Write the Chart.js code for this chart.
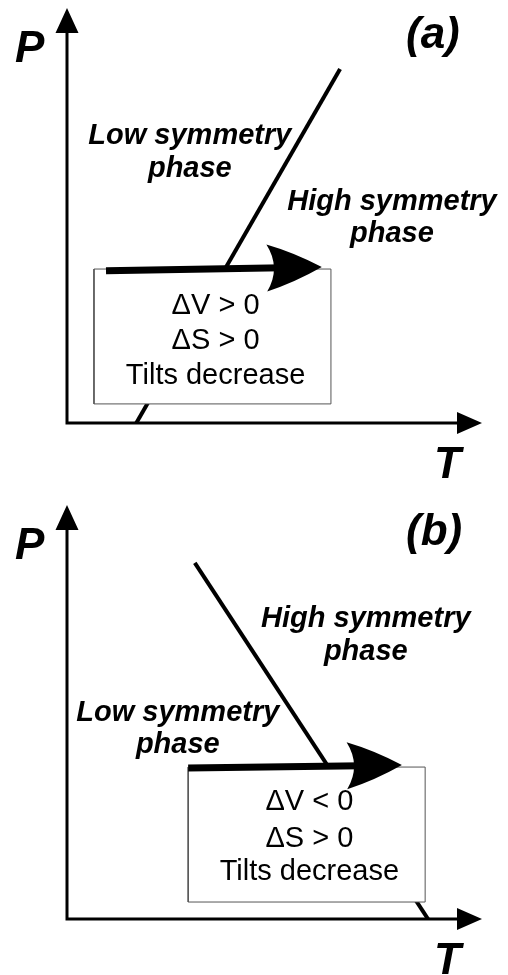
<!DOCTYPE html>
<html>
<head>
<meta charset="utf-8">
<script src="https://cdn.jsdelivr.net/npm/chart.js@4.4.1/dist/chart.umd.min.js"></script>
<style>
  html, body { margin: 0; padding: 0; background: #fff; }
  #wrap { position: relative; width: 508px; height: 975px; }
  .panel { position: absolute; left: 0; width: 508px; }
  canvas { display: block; }
</style>
</head>
<body>
<div id="wrap">
  <div class="panel" style="top:0; height:490px;"><canvas id="chart-a"></canvas></div>
  <div class="panel" style="top:490px; height:485px;"><canvas id="chart-b"></canvas></div>
</div>
<script>
/* ============================================
   P–T schematic: two phase diagrams
   ============================================ */

// shared axis range (arbitrary T and P units)
const axisMin = 0;
const axisMax = 10;

// --- Panel (a): boundary with positive slope ---
const boundaryA_T = [1.67, 6.58];
const boundaryA_P = [0, 8.53];
const boxA_T = [0.65, 6.36];
const boxA_P = [0.46, 3.71];
const shaftA_T = [0.94, 5.2];
const shaftA_P = [3.67, 3.74];
const tipA = [6.14, 3.76];
const boxTextA = ['ΔV > 0', 'ΔS > 0', 'Tilts decrease'];

// --- Panel (b): boundary with negative slope ---
const boundaryB_T = [3.08, 8.70];
const boundaryB_P = [8.60, 0];
const boxB_T = [2.92, 8.63];
const boxB_P = [0.41, 3.67];
const shaftB_T = [2.92, 7.1];
const shaftB_P = [3.65, 3.70];
const tipB = [8.07, 3.72];
const boxTextB = ['ΔV < 0', 'ΔS > 0', 'Tilts decrease'];

const lowLabel = ['Low symmetry', 'phase'];
const highLabel = ['High symmetry', 'phase'];

const BOLD_IT = 'italic bold 29px "Liberation Sans", Arial, sans-serif';
const REG = '29px "Liberation Sans", Arial, sans-serif';
const BIG = 'italic bold 44px "Liberation Sans", Arial, sans-serif';

function pts(ts, ps) {
  return ts.map((t, i) => ({ x: t, y: ps[i] }));
}

function boxPts(ts, ps) {
  return [
    { x: ts[0], y: ps[0] }, { x: ts[1], y: ps[0] },
    { x: ts[1], y: ps[1] }, { x: ts[0], y: ps[1] },
    { x: ts[0], y: ps[0] }
  ];
}

// axes with arrowheads, arrow head on the path, and all texts
const schematicPlugin = {
  id: 'schematic',
  afterDatasetsDraw(chart) {
    const o = chart.options.plugins.schematic;
    const { ctx } = chart;
    const xs = chart.scales.x, ys = chart.scales.y;
    const X = v => xs.getPixelForValue(v);
    const Y = v => ys.getPixelForValue(v);

    ctx.save();

    // path arrow head (slightly bulging sides, hollowed back)
    const sx = X(o.shaftStart[0]), sy = Y(o.shaftStart[1]);
    const tx = X(o.tip[0]), ty = Y(o.tip[1]);
    const ang = Math.atan2(ty - sy, tx - sx);
    const len = 55, half = 23.5;
    ctx.translate(tx, ty);
    ctx.rotate(ang);
    ctx.beginPath();
    ctx.moveTo(0, 0);
    ctx.quadraticCurveTo(-len * 0.5, -half * 0.64, -len, -half);
    ctx.quadraticCurveTo(-len * 0.74, 0, -len, half);
    ctx.quadraticCurveTo(-len * 0.5, half * 0.64, 0, 0);
    ctx.closePath();
    ctx.fillStyle = '#000';
    ctx.fill();
    ctx.setTransform(1, 0, 0, 1, 0, 0);

    // axes
    const ox = X(axisMin), oy = Y(axisMin);
    const top = Y(axisMax), right = X(axisMax);
    ctx.strokeStyle = '#000';
    ctx.lineWidth = 3;
    ctx.beginPath();
    ctx.moveTo(ox, oy + 1.5);
    ctx.lineTo(ox, top + 20);
    ctx.moveTo(ox - 1.5, oy);
    ctx.lineTo(right - 20, oy);
    ctx.stroke();
    ctx.beginPath();
    ctx.moveTo(ox, top);
    ctx.lineTo(ox - 11.5, top + 25);
    ctx.lineTo(ox + 11.5, top + 25);
    ctx.closePath();
    ctx.moveTo(right, oy);
    ctx.lineTo(right - 25, oy - 11);
    ctx.lineTo(right - 25, oy + 11);
    ctx.closePath();
    ctx.fill();

    // axis names and panel tag
    ctx.font = BIG;
    ctx.textAlign = 'left';
    ctx.textBaseline = 'alphabetic';
    ctx.fillText('P', ox - 52, top + 54);
    ctx.fillText('T', right - 48, oy + 55);
    ctx.fillText(o.tag, right - 76, top + 40);

    // phase labels
    ctx.font = BOLD_IT;
    ctx.textAlign = 'center';
    o.labels.forEach(l => {
      l.text.forEach((s, i) => ctx.fillText(s, X(l.t), Y(l.p[i])));
    });

    // box text
    ctx.font = REG;
    o.boxText.forEach((s, i) => ctx.fillText(s, X(o.boxTextT), Y(o.boxTextP[i])));

    ctx.restore();
  }
};

function makePanel(id, cfg) {
  new Chart(document.getElementById(id), {
    type: 'scatter',
    data: {
      datasets: [
        {
          // driving path (heating at constant P)
          data: pts(cfg.shaftT, cfg.shaftP),
          showLine: true,
          borderColor: '#000',
          borderWidth: 7,
          borderCapStyle: 'butt',
          pointRadius: 0
        },
        {
          // info box, filled white so it hides the boundary
          data: boxPts(cfg.boxT, cfg.boxP),
          showLine: true,
          fill: 'shape',
          backgroundColor: '#fff',
          borderColor: '#555',
          borderWidth: 1,
          pointRadius: 0
        },
        {
          // phase boundary
          data: pts(cfg.boundaryT, cfg.boundaryP),
          showLine: true,
          borderColor: '#000',
          borderWidth: 4,
          borderCapStyle: 'butt',
          pointRadius: 0
        }
      ]
    },
    options: {
      responsive: true,
      maintainAspectRatio: false,
      animation: false,
      devicePixelRatio: 1,
      layout: { padding: cfg.padding },
      scales: {
        x: { type: 'linear', min: axisMin, max: axisMax, display: false },
        y: { type: 'linear', min: axisMin, max: axisMax, display: false }
      },
      plugins: {
        legend: { display: false },
        tooltip: { enabled: false },
        schematic: {
          tag: cfg.tag,
          shaftStart: [cfg.shaftT[0], cfg.shaftP[0]],
          tip: cfg.tip,
          labels: cfg.labels,
          boxText: cfg.boxText,
          boxTextT: cfg.boxTextT,
          boxTextP: cfg.boxTextP
        }
      }
    },
    plugins: [schematicPlugin]
  });
}

makePanel('chart-a', {
  tag: '(a)',
  padding: { left: 67, right: 26, top: 8, bottom: 67 },
  boundaryT: boundaryA_T, boundaryP: boundaryA_P,
  boxT: boxA_T, boxP: boxA_P,
  shaftT: shaftA_T, shaftP: shaftA_P, tip: tipA,
  boxText: boxTextA, boxTextT: 3.58, boxTextP: [2.63, 1.78, 0.94],
  labels: [
    { text: lowLabel, t: 2.96, p: [6.72, 5.93] },
    { text: highLabel, t: 7.83, p: [5.13, 4.36] }
  ]
});

makePanel('chart-b', {
  tag: '(b)',
  padding: { left: 67, right: 26, top: 15, bottom: 56 },
  boundaryT: boundaryB_T, boundaryP: boundaryB_P,
  boxT: boxB_T, boxP: boxB_P,
  shaftT: shaftB_T, shaftP: shaftB_P, tip: tipB,
  boxText: boxTextB, boxTextT: 5.84, boxTextP: [2.63, 1.74, 0.94],
  labels: [
    { text: lowLabel, t: 2.67, p: [4.78, 4.01] },
    { text: highLabel, t: 7.20, p: [7.05, 6.26] }
  ]
});
</script>
</body>
</html>
